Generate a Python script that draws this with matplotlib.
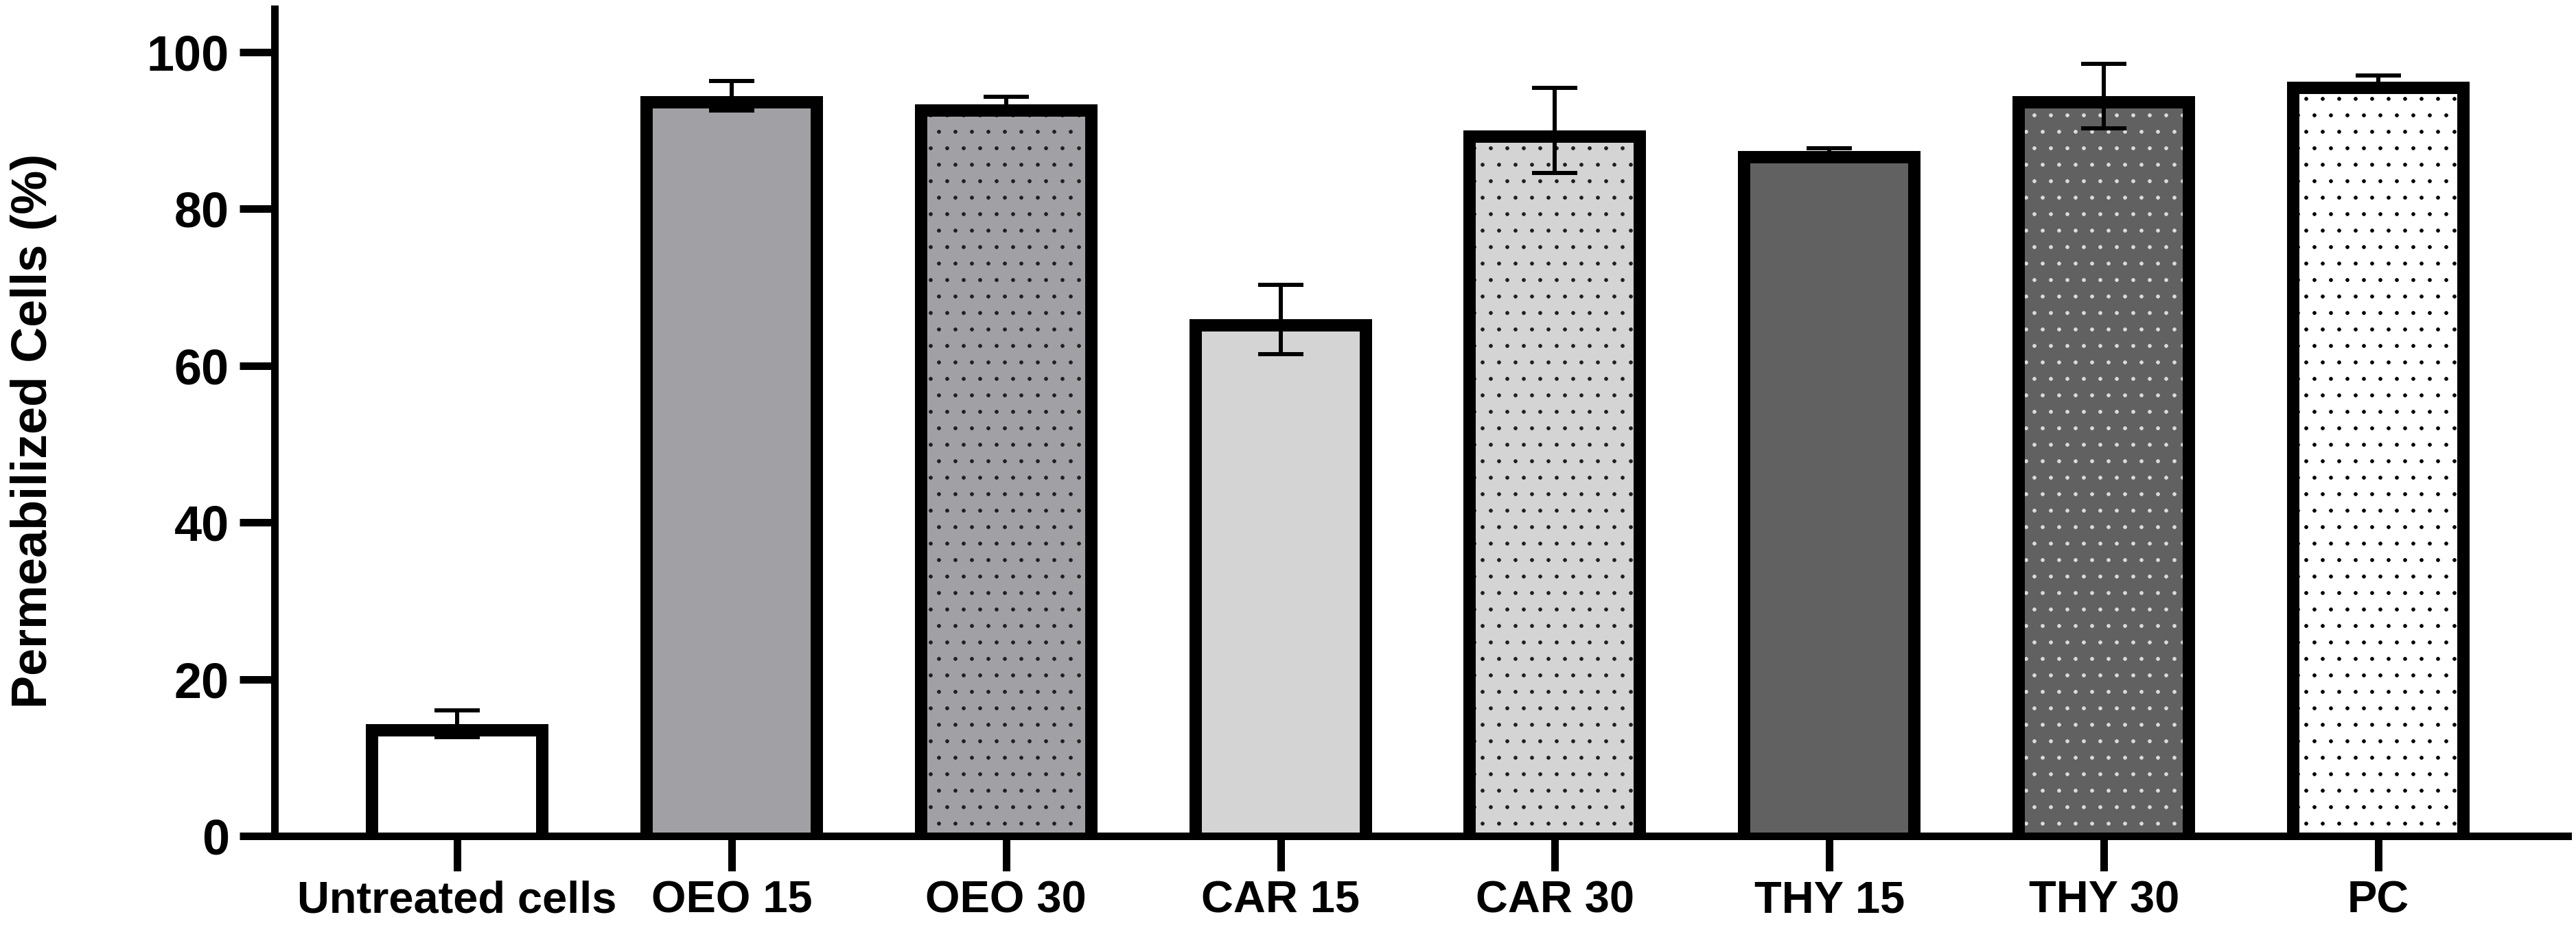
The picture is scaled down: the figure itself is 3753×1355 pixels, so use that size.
import numpy as np
import matplotlib
matplotlib.use("Agg")
import matplotlib.pyplot as plt

# data
categories = ["Untreated cells", "OEO 15", "OEO 30", "CAR 15", "CAR 30", "THY 15", "THY 30", "PC"]
means = [14.3, 94.4, 93.3, 65.9, 90.0, 87.4, 94.4, 96.2]
errors = [1.7, 1.9, 1.0, 4.4, 5.4, 0.3, 4.1, 0.8]

# bar styles (fill, dot colour or None)
fills = ["#ffffff", "#a1a0a5", "#a1a0a5", "#d4d4d4", "#d4d4d4", "#616161", "#616161", "#ffffff"]
dots = [None, None, "#1e1e1e", None, "#1e1e1e", None, "#dcdcdc", "#000000"]

DPI = 144
plt.rcParams['font.family'] = ['Liberation Sans', 'DejaVu Sans']
plt.rcParams['font.weight'] = 'bold'
plt.rcParams['hatch.linewidth'] = 0.4

fig = plt.figure(figsize=(3753 / DPI, 1355 / DPI), dpi=DPI)
ax = fig.add_axes([400 / 3753, 1 - 1218 / 1355, (3741 - 400) / 3753, (1218 - 13) / 1355])

x = np.arange(len(categories))
width = 0.665
base = 6  # bars start below the axis so no bottom border shows

heights = np.array(means) + base
for i in range(len(categories)):
    ax.bar(x[i], heights[i], width=width, bottom=-base, color=fills[i],
           edgecolor=dots[i] if dots[i] else fills[i], linewidth=0,
           hatch='.' if dots[i] else None, zorder=2)

# outline drawn inside the bar edge (clipped to the bar shape, still clipped by the axes)
outline = ax.bar(x, heights, width=width, bottom=-base, facecolor='none',
                 edgecolor='black', linewidth=18, zorder=2.2)
for p in outline.patches:
    p.set_clip_path(p.get_path(), p.get_transform())

ax.errorbar(x, means, yerr=errors, fmt='none', ecolor='black', elinewidth=3,
            capsize=16.5, capthick=3, zorder=3)

ax.set_xlim(-0.665, 7.69)
ax.set_ylim(0, 105.5)
ax.set_yticks([0, 20, 40, 60, 80, 100])
ax.set_xticks(x)
ax.set_xticklabels(categories, fontsize=32.5, fontweight='bold')
for lab in ax.get_yticklabels():
    lab.set_fontsize(36)
    lab.set_fontweight('bold')

for side in ['top', 'right']:
    ax.spines[side].set_visible(False)
for side in ['left', 'bottom']:
    ax.spines[side].set_linewidth(5.5)
    ax.spines[side].set_capstyle('projecting')

ax.tick_params(axis='both', width=5.5, length=25.5, direction='out', color='black')
ax.tick_params(axis='y', pad=7.5)
ax.tick_params(axis='x', pad=6.5)

ax.set_ylabel("Permeabilized Cells (%)", fontsize=36, fontweight='bold')
ax.yaxis.set_label_coords(-0.0949, 0.49)

fig.savefig("out.png", dpi=DPI)
